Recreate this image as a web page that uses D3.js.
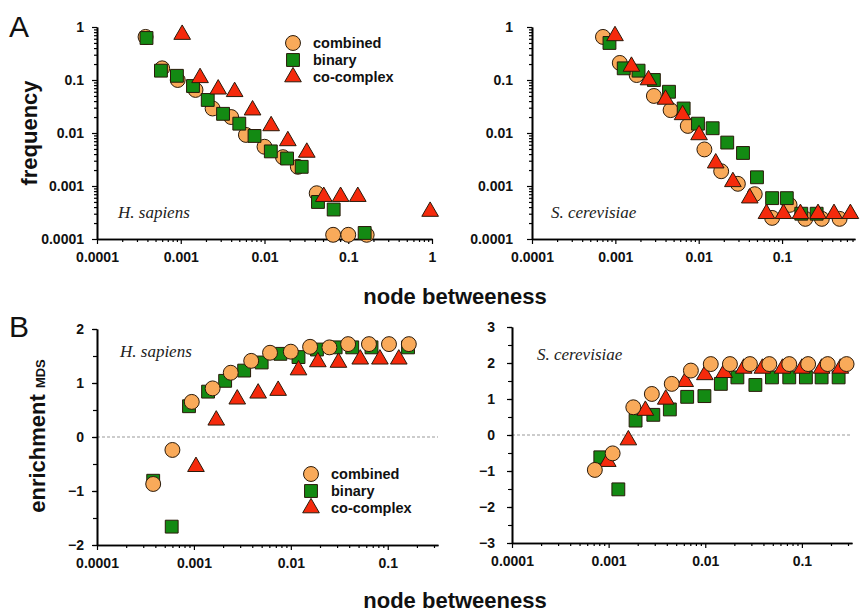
<!DOCTYPE html>
<html>
<head>
<meta charset="utf-8">
<script src="https://d3js.org/d3.v7.min.js"></script>
<style>
  body { margin: 0; background: #fff; }
</style>
</head>
<body>
<script>
// ---- data: [node betweeness, value] ----
// A, H. sapiens : frequency
const hsFreqCombined = [[0.00038,0.65],[0.0006,0.166],[0.00092,0.1],[0.0015,0.065],[0.0024,0.029],[0.004,0.02],[0.006,0.0092],[0.01,0.0055],[0.0166,0.0035],[0.025,0.0023],[0.042,0.00073],[0.066,0.00012],[0.1,0.00012],[0.166,0.00012]];
const hsFreqBinary = [[0.00039,0.62],[0.00058,0.15],[0.0009,0.12],[0.0014,0.077],[0.0021,0.042],[0.0032,0.023],[0.005,0.015],[0.0076,0.0088],[0.0119,0.0045],[0.0186,0.0033],[0.0278,0.0023],[0.0435,0.0005],[0.067,0.00036],[0.157,0.00013]];
const hsFreqComplex = [[0.00104,0.72],[0.0017,0.11],[0.0028,0.067],[0.0044,0.06],[0.0072,0.027],[0.012,0.0136],[0.019,0.0071],[0.032,0.0043],[0.051,0.00063],[0.081,0.00063],[0.13,0.00063],[0.95,0.00033]];
// A, S. cerevisiae : frequency
const scFreqCombined = [[0.00071,0.65],[0.00113,0.21],[0.0018,0.124],[0.0029,0.05],[0.0046,0.027],[0.0074,0.0136],[0.0117,0.0049],[0.0186,0.0019],[0.0295,0.0011],[0.047,0.0007],[0.076,0.00025],[0.123,0.00044],[0.19,0.00024],[0.3,0.00024],[0.49,0.00024]];
const scFreqBinary = [[0.00085,0.5],[0.00126,0.166],[0.0019,0.15],[0.0029,0.1],[0.0044,0.06],[0.0066,0.029],[0.0098,0.015],[0.0147,0.0123],[0.022,0.0066],[0.034,0.0042],[0.05,0.00146],[0.076,0.00059],[0.114,0.00059],[0.17,0.0003],[0.26,0.0003]];
const scFreqComplex = [[0.00099,0.68],[0.00156,0.18],[0.0025,0.1],[0.004,0.043],[0.0064,0.022],[0.0101,0.0092],[0.016,0.0027],[0.0257,0.0012],[0.041,0.00059],[0.065,0.0003],[0.104,0.0003],[0.166,0.0003],[0.27,0.0003],[0.42,0.0003],[0.66,0.0003]];
// B, H. sapiens : enrichment MDS
const hsEnrCombined = [[0.00038,-0.87],[0.0006,-0.24],[0.00095,0.65],[0.00156,0.9],[0.0024,1.19],[0.0039,1.41],[0.0061,1.56],[0.01,1.58],[0.0158,1.67],[0.025,1.66],[0.039,1.72],[0.064,1.72],[0.103,1.72],[0.165,1.72]];
const hsEnrBinary = [[0.00038,-0.81],[0.00059,-1.66],[0.00089,0.57],[0.0014,0.84],[0.0021,1.04],[0.0033,1.23],[0.005,1.38],[0.0078,1.54],[0.012,1.48],[0.0186,1.62],[0.029,1.66],[0.043,1.66],[0.068,1.66],[0.162,1.66]];
const hsEnrComplex = [[0.00105,-0.55],[0.0017,0.31],[0.0028,0.7],[0.0046,0.81],[0.0074,0.86],[0.012,1.24],[0.019,1.39],[0.031,1.38],[0.052,1.44],[0.083,1.44],[0.13,1.44]];
// B, S. cerevisiae : enrichment MDS
const scEnrCombined = [[0.00072,-0.97],[0.0011,-0.51],[0.0018,0.77],[0.0028,1.14],[0.0045,1.42],[0.0071,1.79],[0.0114,1.97],[0.018,1.97],[0.029,1.97],[0.046,1.97],[0.074,1.97],[0.116,1.97],[0.185,1.97],[0.29,1.97]];
const scEnrBinary = [[0.00082,-0.62],[0.00126,-1.51],[0.0019,0.4],[0.0029,0.56],[0.0043,0.71],[0.0065,1.06],[0.0098,1.08],[0.0145,1.42],[0.0215,1.6],[0.033,1.39],[0.049,1.6],[0.074,1.6],[0.11,1.6],[0.16,1.6],[0.24,1.6]];
const scEnrComplex = [[0.00098,-0.74],[0.0016,-0.14],[0.0024,0.68],[0.0039,0.99],[0.0062,1.48],[0.0099,1.67],[0.0157,1.73],[0.025,1.85],[0.039,1.85],[0.063,1.85],[0.1,1.85],[0.16,1.85],[0.25,1.85]];

// ticks
const xTicks = [0.0001, 0.001, 0.01, 0.1, 1];
const xTickLabels = ["0.0001", "0.001", "0.01", "0.1", "1"];
const freqTicks = [1, 0.1, 0.01, 0.001, 0.0001];
const freqTickLabels = ["1", "0.1", "0.01", "0.001", "0.0001"];
const seriesNames = ["combined", "binary", "co-complex"];

const colors = { combined: "#f9aa5a", binary: "#138a13", "co-complex": "#f52a0c" };
const shapes = { combined: d3.symbolCircle, binary: d3.symbolSquare, "co-complex": d3.symbolTriangle };
const sizes = { combined: 175, binary: 165, "co-complex": 120 };
const SANS = "'Liberation Sans', Arial, Helvetica, sans-serif";
const SERIF = "'Liberation Serif', 'Times New Roman', serif";

let svg = d3.select("body").append("svg")
  .attr("width", 862)
  .attr("height", 614)
  .style("font-family", SANS);

function minorTicks(domain) {
  let out = [];
  for (let e = -4; e < 1; e++) {
    for (let k = 2; k <= 9; k++) {
      let v = k * Math.pow(10, e);
      if (v > domain[0] && v <= domain[1]) out.push(v);
    }
  }
  return out;
}

function drawPanel(p) {
  let g = svg.append("g");
  let x = d3.scaleLog().domain(p.xDomain).range(p.xRange);
  let y = p.yLog
    ? d3.scaleLog().domain(p.yDomain).range(p.yRange)
    : d3.scaleLinear().domain(p.yDomain).range(p.yRange);

  // zero line
  if (!p.yLog) {
    g.append("line")
      .attr("x1", p.xRange[0]).attr("x2", p.xRange[1])
      .attr("y1", y(0)).attr("y2", y(0))
      .attr("stroke", "#999").attr("stroke-width", 1)
      .attr("stroke-dasharray", "3,2");
  }

  // x axis
  let xb = p.yRange[0];
  g.append("g").attr("transform", `translate(0,${xb})`)
    .call(d3.axisBottom(x).tickValues(minorTicks(p.xDomain)).tickSize(3).tickSizeOuter(0).tickFormat(""));
  let xMaj = xTicks.filter(v => v <= p.xDomain[1] * 1.0001);
  g.append("g").attr("transform", `translate(0,${xb})`)
    .call(d3.axisBottom(x).tickValues(xMaj).tickSize(5).tickSizeOuter(0).tickPadding(8)
      .tickFormat(d => xTickLabels[xTicks.indexOf(d)]));

  // y axis
  let yl = p.xRange[0];
  if (p.yLog) {
    g.append("g").attr("transform", `translate(${yl},0)`)
      .call(d3.axisLeft(y).tickValues(minorTicks(p.yDomain)).tickSize(3).tickSizeOuter(0).tickFormat(""));
    g.append("g").attr("transform", `translate(${yl},0)`)
      .call(d3.axisLeft(y).tickValues(freqTicks).tickSize(5).tickSizeOuter(0).tickPadding(p.yPad)
        .tickFormat(d => freqTickLabels[freqTicks.indexOf(d)]));
  } else {
    g.append("g").attr("transform", `translate(${yl},0)`)
      .call(d3.axisLeft(y).ticks((p.yDomain[1] - p.yDomain[0]) * 2).tickSize(4).tickSizeOuter(0).tickFormat(""));
    g.append("g").attr("transform", `translate(${yl},0)`)
      .call(d3.axisLeft(y).ticks(p.yDomain[1] - p.yDomain[0]).tickSize(5).tickSizeOuter(0).tickPadding(p.yPad)
        .tickFormat(d3.format("d")));
  }

  g.selectAll(".domain").attr("stroke", "#000").attr("stroke-width", 1.6);
  g.selectAll(".tick line").attr("stroke", "#000").attr("stroke-width", 1.2);
  g.selectAll(".tick text")
    .attr("font-family", SANS)
    .attr("font-weight", "bold")
    .attr("font-size", "14px")
    .attr("fill", "#111");

  // points
  p.order.forEach(name => {
    g.selectAll(null)
      .data(p.series[name])
      .enter()
      .append("path")
      .attr("transform", d => `translate(${x(d[0])},${y(d[1])})`)
      .attr("d", d3.symbol().type(shapes[name]).size(sizes[name]))
      .attr("fill", colors[name])
      .attr("stroke", "#2a1a0a")
      .attr("stroke-width", 1);
  });

  // species
  g.append("text")
    .attr("x", p.species[1]).attr("y", p.species[2])
    .style("font-family", SERIF)
    .style("font-style", "italic")
    .attr("font-size", "17px")
    .attr("fill", "#222")
    .text(p.species[0]);

  // legend
  if (p.legend) {
    seriesNames.forEach((name, i) => {
      let ly = p.legend[1] + i * 17;
      g.append("path")
        .attr("transform", `translate(${p.legend[0]},${ly})`)
        .attr("d", d3.symbol().type(shapes[name]).size(sizes[name]))
        .attr("fill", colors[name])
        .attr("stroke", "#2a1a0a")
        .attr("stroke-width", 1);
      g.append("text")
        .attr("x", p.legend[0] + 20).attr("y", ly + 5)
        .attr("font-weight", "bold")
        .attr("font-size", "14.5px")
        .attr("fill", "#111")
        .text(name);
    });
  }
}

drawPanel({
  xDomain: [0.0001, 1], xRange: [97, 432],
  yLog: true, yDomain: [0.0001, 1], yRange: [239, 27], yPad: 8,
  series: { combined: hsFreqCombined, binary: hsFreqBinary, "co-complex": hsFreqComplex },
  order: ["combined", "binary", "co-complex"],
  species: ["H. sapiens", 118, 218],
  legend: [293, 43]
});
drawPanel({
  xDomain: [0.0001, 0.75], xRange: [532, 855],
  yLog: true, yDomain: [0.0001, 1], yRange: [239, 27], yPad: 14,
  series: { combined: scFreqCombined, binary: scFreqBinary, "co-complex": scFreqComplex },
  order: ["combined", "binary", "co-complex"],
  species: ["S. cerevisiae", 551, 218]
});
drawPanel({
  xDomain: [0.0001, 0.33], xRange: [97, 438],
  yLog: false, yDomain: [-2, 2], yRange: [545, 329], yPad: 8,
  series: { combined: hsEnrCombined, binary: hsEnrBinary, "co-complex": hsEnrComplex },
  order: ["binary", "co-complex", "combined"],
  species: ["H. sapiens", 120, 357],
  legend: [311, 474]
});
drawPanel({
  xDomain: [0.0001, 0.33], xRange: [512, 852],
  yLog: false, yDomain: [-3, 3], yRange: [543, 327], yPad: 12,
  series: { combined: scEnrCombined, binary: scEnrBinary, "co-complex": scEnrComplex },
  order: ["binary", "co-complex", "combined"],
  species: ["S. cerevisiae", 537, 360]
});

// panel letters
svg.append("text").attr("x", 9).attr("y", 37)
  .attr("font-size", "30px").attr("fill", "#111").text("A");
svg.append("text").attr("x", 9).attr("y", 337)
  .attr("font-size", "30px").attr("fill", "#111").text("B");

// axis titles
svg.append("text")
  .attr("x", 455).attr("y", 304)
  .attr("text-anchor", "middle")
  .attr("font-weight", "bold").attr("font-size", "22px").attr("fill", "#111")
  .text("node betweeness");
svg.append("text")
  .attr("x", 455).attr("y", 608)
  .attr("text-anchor", "middle")
  .attr("font-weight", "bold").attr("font-size", "22px").attr("fill", "#111")
  .text("node betweeness");

svg.append("text")
  .attr("transform", "translate(37,133) rotate(-90)")
  .attr("text-anchor", "middle")
  .attr("font-weight", "bold").attr("font-size", "22px").attr("fill", "#111")
  .text("frequency");

const enr = svg.append("text")
  .attr("transform", "translate(45,436) rotate(-90)")
  .attr("text-anchor", "middle")
  .attr("font-weight", "bold").attr("font-size", "22px").attr("fill", "#111");
enr.append("tspan").text("enrichment ");
enr.append("tspan").attr("font-size", "13px").text("MDS");
</script>
</body>
</html>
